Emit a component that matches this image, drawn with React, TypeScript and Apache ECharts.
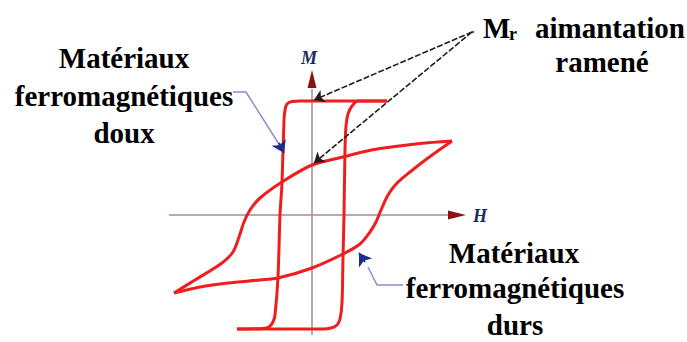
import { useEffect, useRef } from "react";
import * as echarts from "echarts";

// Soft ferromagnetic loop (narrow, square), in H / M units
const softDescH = [7.5, -1.2, -2.0, -2.5, -2.7, -2.8, -3.0, -3.2, -3.4, -3.7, -3.9, -4.3, -4.9, -7.5];
const softDescM = [11.4, 11.4, 11.35, 11.1, 10.5, 9.5, 3.2, 0, -6.2, -10.0, -10.7, -11.2, -11.35, -11.4];
const softAscH = [-7.5, 1.1, 1.9, 2.5, 2.8, 3.0, 3.1, 3.2, 3.3, 3.4, 3.6, 4.0, 4.6, 7.5];
const softAscM = [-11.4, -11.4, -11.3, -11.0, -10.4, -8.8, -4.2, 0, 6.5, 8.9, 10.1, 10.9, 11.4, 11.4];

// Hard ferromagnetic loop (wide, slanted)
const hardDescH = [14.0, 10.8, 6.8, 4.8, 3.3, 0, -3.0, -5.2, -6.2, -6.8, -7.3, -7.9, -9.0, -11.7, -13.8];
const hardDescM = [7.4, 7.15, 6.65, 6.25, 5.85, 5.0, 3.3, 1.7, 0.5, -0.7, -2.2, -3.7, -4.8, -6.5, -7.8];
const hardAscH = [-13.8, -11.2, -8.4, -5.2, -3.4, 0, 3.1, 4.8, 5.8, 6.4, 6.9, 7.6, 8.5, 9.8, 11.6, 14.0];
const hardAscM = [-7.8, -7.2, -6.8, -6.5, -6.3, -5.3, -3.9, -2.9, -1.7, -0.7, 0.5, 2.0, 3.2, 4.3, 5.7, 7.4];

// Remanent magnetisation of each loop (value at H = 0)
const mrSoft = 11.4;
const mrHard = 5.0;

// Axis extents
const hAxisRange = [-14.3, 13.8];
const mAxisRange = [-12.0, 12.6];
const hArrowAt = 14.5;
const mArrowAt = 13.6;

// Annotation pointers (H, M)
const mrOrigin = [16.0, 18.3];
const softPointerH = [-7.9, -6.6, -3.0];
const softPointerM = [12.3, 12.3, 6.6];
const softPointerHead = [[-3.3, 7.2], [-2.8, 6.2]];
const hardPointerH = [9.1, 6.5, 5.6];
const hardPointerM = [-7.0, -7.0, -5.2];
const hardPointerHead = [[5.3, -4.7], [4.7, -3.8]];

const zip = (xs: number[], ys: number[]) => xs.map((x, i) => [x, ys[i]]);

const RED = "#ee1e1e";
const SERIF = '"Liberation Serif", "Times New Roman", Times, serif';

export default function App() {
  const ref = useRef<HTMLDivElement>(null);

  useEffect(() => {
    if (!ref.current) return;
    const chart = echarts.init(ref.current, null, { renderer: "svg" });

    const curve = (data: number[][]) => ({
      type: "line",
      data,
      showSymbol: false,
      smooth: 0.3,
      lineStyle: { color: RED, width: 3 },
      z: 3,
      silent: true,
    });

    const text = (
      x: number,
      y: number,
      t: string,
      opts: { align?: string; size?: number; italic?: boolean; fill?: string } = {}
    ) => ({
      type: "text",
      x,
      y,
      style: {
        text: t,
        fontFamily: SERIF,
        fontWeight: "bold",
        fontStyle: opts.italic ? "italic" : "normal",
        fontSize: opts.size ?? 29,
        fill: opts.fill ?? "#000",
        align: opts.align ?? "center",
        verticalAlign: "middle",
      },
    });

    chart.setOption({
      animation: false,
      backgroundColor: "#ffffff",
      grid: { left: 0, right: 0, top: 0, bottom: 0 },
      xAxis: { type: "value", min: -31.2, max: 37.5, show: false },
      yAxis: { type: "value", min: -12.7, max: 21.5, show: false },
      series: [
        // axes
        {
          type: "line",
          data: [[hAxisRange[0], 0], [hAxisRange[1], 0]],
          showSymbol: false,
          lineStyle: { color: "#a88c8c", width: 1.5 },
          z: 1,
          silent: true,
        },
        {
          type: "line",
          data: [[0, mAxisRange[0]], [0, mAxisRange[1]]],
          showSymbol: false,
          lineStyle: { color: "#a88c8c", width: 1.5 },
          z: 1,
          silent: true,
        },
        {
          type: "scatter",
          data: [[0, mArrowAt]],
          symbol: "triangle",
          symbolSize: [9, 18],
          itemStyle: { color: "#8a1212", opacity: 1 },
          z: 2,
          silent: true,
        },
        {
          type: "scatter",
          data: [[hArrowAt, 0]],
          symbol: "triangle",
          symbolSize: [9, 18],
          symbolRotate: -90,
          itemStyle: { color: "#8a1212", opacity: 1 },
          z: 2,
          silent: true,
        },
        // hysteresis loops
        curve(zip(softDescH, softDescM)),
        curve(zip(softAscH, softAscM)),
        curve(zip(hardDescH, hardDescM)),
        curve(zip(hardAscH, hardAscM)),
        // remanence pointers
        {
          type: "lines",
          coordinateSystem: "cartesian2d",
          data: [
            { coords: [mrOrigin, [0.2, mrSoft + 0.1]] },
            { coords: [mrOrigin, [0.2, mrHard + 0.2]] },
          ],
          lineStyle: { color: "#1e1e1e", width: 1.6, type: [6, 2], opacity: 1 },
          symbol: ["none", "arrow"],
          symbolSize: 10,
          z: 5,
          silent: true,
        },
        // material pointers
        {
          type: "lines",
          coordinateSystem: "cartesian2d",
          polyline: true,
          data: [
            { coords: zip(softPointerH, softPointerM) },
            { coords: zip(hardPointerH, hardPointerM) },
          ],
          lineStyle: { color: "#8a8fcc", width: 1.5, opacity: 1 },
          z: 5,
          silent: true,
        },
        {
          type: "lines",
          coordinateSystem: "cartesian2d",
          data: [{ coords: softPointerHead }, { coords: hardPointerHead }],
          lineStyle: { color: "#1e2c8e", width: 2, opacity: 1 },
          symbol: ["none", "arrow"],
          symbolSize: 12,
          z: 5,
          silent: true,
        },
      ],
      graphic: [
        text(124, 58, "Matériaux"),
        text(124, 96, "ferromagnétiques"),
        text(124, 133, "doux"),
        text(514, 253, "Matériaux"),
        text(515, 288, "ferromagnétiques"),
        text(515, 325, "durs"),
        text(483, 28, "M", { align: "left" }),
        text(509, 34, "r", { align: "left", size: 18 }),
        text(535, 28, "aimantation", { align: "left" }),
        text(602, 62, "ramené"),
        text(309, 58, "M", { size: 18, italic: true, fill: "#1d2a5c" }),
        text(480, 216, "H", { size: 18, italic: true, fill: "#1d2a5c" }),
        {
          type: "circle",
          shape: { cx: 473, cy: 32, r: 1.2 },
          style: { fill: "#555" },
        },
      ],
    });

    return () => chart.dispose();
  }, []);

  return (
    <div
      ref={ref}
      style={{ position: "fixed", left: 0, top: 0, width: 687, height: 342, background: "#fff" }}
    />
  );
}
